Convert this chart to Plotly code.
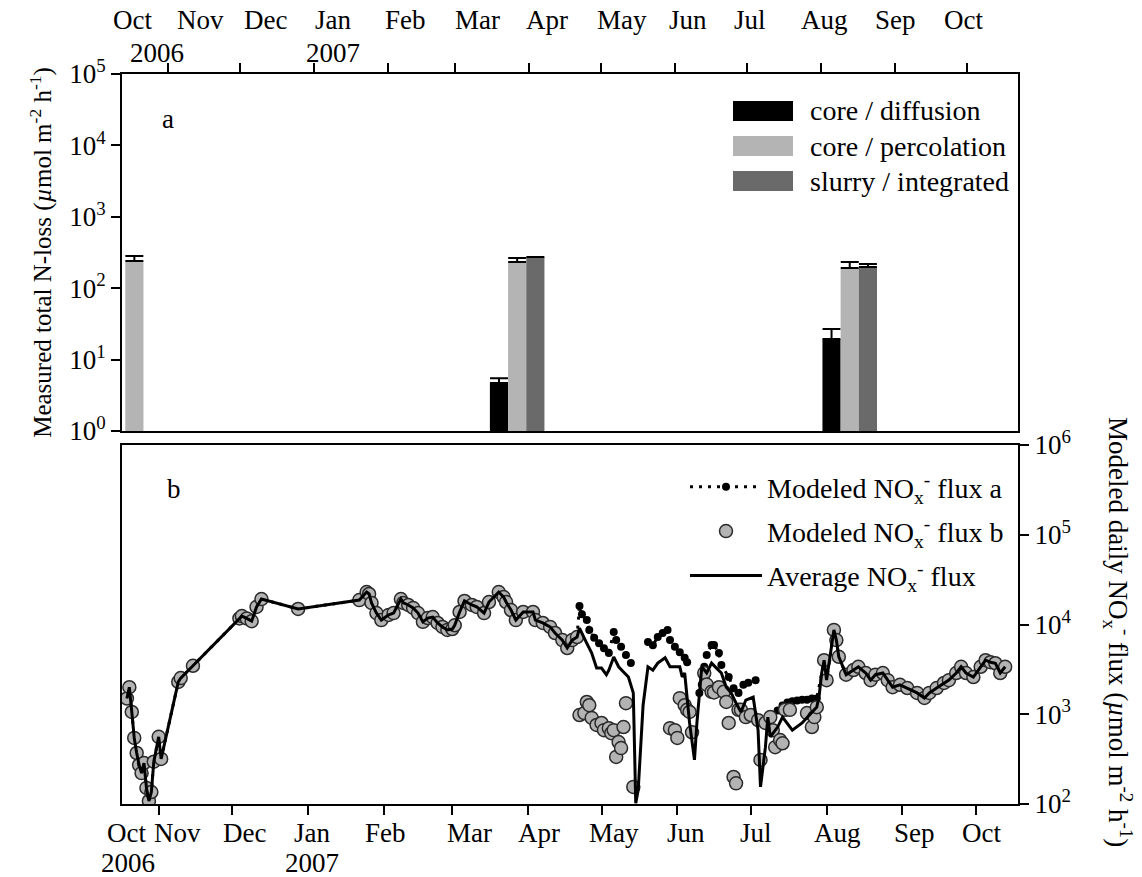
import plotly.graph_objects as go

# ---------------- data ----------------
# panel a : measured total N-loss (umol m-2 h-1)
bar_dates = ["2006-10-18", "2007-03-27", "2007-08-13"]
diffusion = [None, 4.7, 19.4]
diffusion_err = [0, 0.8, 7.4]
percolation = [240, 233, 192]
percolation_err = [42, 32, 41]
slurry = [None, 273, 198]
slurry_err = [0, 0, 20]

# panel b : modeled daily NOx- flux; periods where flux a = flux b = average
common1_dates = [
    "2006-10-19", "2006-10-20", "2006-10-21", "2006-10-22", "2006-10-23", "2006-10-24",
    "2006-10-25", "2006-10-26", "2006-10-27", "2006-10-28", "2006-10-29", "2006-10-30",
    "2006-11-01", "2006-11-02", "2006-11-09", "2006-11-10", "2006-11-15",
    "2006-12-04", "2006-12-05", "2006-12-07", "2006-12-09", "2006-12-11", "2006-12-13",
    "2006-12-28", "2007-01-22", "2007-01-25", "2007-01-26", "2007-01-27", "2007-01-29",
    "2007-01-31", "2007-02-03", "2007-02-05", "2007-02-08", "2007-02-09", "2007-02-11",
    "2007-02-13", "2007-02-15", "2007-02-17", "2007-02-19", "2007-02-21", "2007-02-23",
    "2007-02-25", "2007-02-27", "2007-03-01", "2007-03-02", "2007-03-04", "2007-03-06",
    "2007-03-09", "2007-03-11", "2007-03-14", "2007-03-16", "2007-03-20", "2007-03-22",
    "2007-03-23", "2007-03-25", "2007-03-27", "2007-03-30", "2007-04-03", "2007-04-04",
    "2007-04-07", "2007-04-10", "2007-04-12", "2007-04-15", "2007-04-17", "2007-04-19",
    "2007-04-21",
]
common1_vals = [
    1500, 2000, 1060, 545, 370, 272,
    221, 286, 151, 108, 136, 296,
    560, 318, 2290, 2530, 3470,
    11700, 12400, 11700, 10900, 15700, 19200,
    14900, 18700, 23000, 21900, 17400, 13400,
    11200, 12800, 13400, 19200, 17400, 16500,
    15300, 13400, 10700, 11800, 12100, 10400,
    9380, 8700, 8900, 9800, 13800, 18300,
    16500, 15700, 13400, 17800, 23000, 20200,
    17800, 14500, 11200, 13800, 13800, 11200,
    10400, 9400, 8040, 6700, 5470, 6700,
    7250,
]

# spring/summer period where the two model estimates diverge
a_split_dates = [
    "2007-04-22", "2007-04-23", "2007-04-25", "2007-04-26", "2007-04-28", "2007-04-30",
    "2007-05-02", "2007-05-04", "2007-05-06", "2007-05-07", "2007-05-09", "2007-05-11",
    "2007-05-13", "2007-05-16",
    "2007-05-20", "2007-05-22", "2007-05-24", "2007-05-26", "2007-05-28", "2007-05-29",
    "2007-05-31", "2007-06-02", "2007-06-04", "2007-06-05", "2007-06-07",
    "2007-06-10", "2007-06-11", "2007-06-12", "2007-06-13", "2007-06-15", "2007-06-16",
    "2007-06-18", "2007-06-19", "2007-06-22", "2007-06-24", "2007-06-26", "2007-06-28",
    "2007-06-30", "2007-07-03", "2007-07-07",
    "2007-07-12", "2007-07-14", "2007-07-16", "2007-07-18", "2007-07-20", "2007-07-22",
    "2007-07-24", "2007-07-26", "2007-07-28",
]
a_split_vals = [
    16100, 13000, 11200, 8700, 7100, 6200,
    5450, 4800, 8250, 6700, 5650, 4580,
    3720, None,
    6380, 5870, 7250, 8040, 8700, 6700,
    5650, 4900, 4250, 3800, None,
    1730, 2140, 3380, 4580, 5900, 5900,
    4800, 3540, 2600, 1950, 1730, 2130,
    2240, 2400, None,
    1100, 1250, 1350, 1400, 1420, 1450,
    1450, 1500, 1500,
]

b_split_dates = [
    "2007-04-22", "2007-04-24", "2007-04-25", "2007-04-26", "2007-04-27", "2007-04-29",
    "2007-05-01", "2007-05-02", "2007-05-04", "2007-05-05", "2007-05-06", "2007-05-07",
    "2007-05-08", "2007-05-09", "2007-05-10", "2007-05-11", "2007-05-14",
    "2007-05-29", "2007-05-31", "2007-06-01", "2007-06-02", "2007-06-04", "2007-06-05",
    "2007-06-06", "2007-06-07", "2007-06-12", "2007-06-13", "2007-06-15", "2007-06-16",
    "2007-06-18", "2007-06-20", "2007-06-21", "2007-06-22", "2007-06-24", "2007-06-25",
    "2007-06-26", "2007-06-27", "2007-06-29", "2007-07-01", "2007-07-04", "2007-07-05",
    "2007-07-07", "2007-07-09", "2007-07-10", "2007-07-11", "2007-07-13", "2007-07-14",
    "2007-07-15", "2007-07-17", "2007-07-24", "2007-07-26", "2007-07-27", "2007-07-28",
]
b_split_vals = [
    980, 1030, 1370, 1260, 910, 760,
    800, 665, 700, 615, 665, 335,
    490, 420, 720, 1330, 155,
    700, 665, 545, 1510, 1260, 1120,
    1060, 630, 2880, 2140, 1780, 1750,
    2000, 1780, 1370, 800, 200, 170,
    1120, 1120, 930, 980, 860, 310,
    800, 930, 665, 430, 515, 475,
    1120, 1120, 1030, 720, 930, 1200,
]

avg_split_dates = [
    "2007-04-22", "2007-04-25", "2007-04-27", "2007-04-29", "2007-05-01", "2007-05-03",
    "2007-05-04", "2007-05-06", "2007-05-08", "2007-05-10", "2007-05-12", "2007-05-14",
    "2007-05-15", "2007-05-16", "2007-05-18", "2007-05-20", "2007-05-22", "2007-05-24",
    "2007-05-27", "2007-05-29", "2007-06-02", "2007-06-03", "2007-06-04", "2007-06-06",
    "2007-06-08", "2007-06-09", "2007-06-10", "2007-06-11", "2007-06-13", "2007-06-15",
    "2007-06-17", "2007-06-19", "2007-06-21", "2007-06-23", "2007-06-25", "2007-06-27",
    "2007-06-29", "2007-07-02", "2007-07-04", "2007-07-05", "2007-07-07", "2007-07-08",
    "2007-07-09", "2007-07-12", "2007-07-14", "2007-07-18", "2007-07-22", "2007-07-26",
    "2007-07-28", "2007-07-29", "2007-07-30",
]
avg_split_vals = [
    9100, 6150, 4800, 3270, 3270, 2760,
    3100, 4350, 3380, 2960, 2600, 1730,
    102, 143, 1260, 3380, 3100, 3710,
    4260, 3380, 3380, 2600, 2880, 800,
    310, 800, 1550, 3380, 2880, 3710,
    3270, 2880, 2000, 1730, 1330, 1060,
    1440, 1550, 665, 155, 430, 930,
    560, 720, 930, 665, 800, 1030,
    1200, 1630, 2880,
]

common2_dates = [
    "2007-07-31", "2007-08-01", "2007-08-04", "2007-08-05", "2007-08-06", "2007-08-09",
    "2007-08-12", "2007-08-14", "2007-08-17", "2007-08-19", "2007-08-21", "2007-08-24",
    "2007-08-26", "2007-08-28", "2007-08-31", "2007-09-03", "2007-09-07", "2007-09-10",
    "2007-09-12", "2007-09-15", "2007-09-18", "2007-09-20", "2007-09-23", "2007-09-25",
    "2007-09-27", "2007-09-30", "2007-10-03", "2007-10-05", "2007-10-07", "2007-10-09",
    "2007-10-11", "2007-10-13",
]
common2_vals = [
    4000, 2400, 8700, 6700, 4370, 2760,
    3110, 3380, 2880, 2400, 2760, 2880,
    2400, 2000, 2130, 1960, 1730, 1520,
    1730, 1960, 2230, 2400, 2880, 3380,
    2880, 2600, 3380, 4000, 3800, 3700,
    2880, 3380,
]

# axis tick labels
month_ticks = ["2006-11-01", "2006-12-01", "2007-01-01", "2007-02-01", "2007-03-01",
               "2007-04-01", "2007-05-01", "2007-06-01", "2007-07-01", "2007-08-01",
               "2007-09-01", "2007-10-01"]
month_labels = ["Oct", "Nov", "Dec", "Jan", "Feb", "Mar", "Apr", "May", "Jun", "Jul",
                "Aug", "Sep", "Oct"]
year_labels = ["2006", "2007"]
top_log_ticks = [1, 10, 100, 1000, 10000, 100000]
top_log_text = ["10<sup>0</sup>", "10<sup>1</sup>", "10<sup>2</sup>", "10<sup>3</sup>",
                "10<sup>4</sup>", "10<sup>5</sup>"]
bot_log_ticks = [100, 1000, 10000, 100000, 1000000]
bot_log_text = ["10<sup>2</sup>", "10<sup>3</sup>", "10<sup>4</sup>", "10<sup>5</sup>",
                "10<sup>6</sup>"]

# ---------------- layout helpers ----------------
W, H = 1142, 877
L, R, T, B = 122, 124, 74, 73
PW, PH = W - L - R, H - T - B
FONT = "Liberation Serif, Times New Roman, DejaVu Serif, serif"
FS = 27


def px(x):
    return (x - L) / PW


def py(y):
    return (H - B - y) / PH


def label(text, x, y, size=FS, **kw):
    d = dict(text=text, x=px(x), y=py(y), xref="paper", yref="paper",
             xanchor="center", yanchor="middle", showarrow=False,
             font=dict(family=FONT, size=size, color="black"))
    d.update(kw)
    return d


a_dates = common1_dates + a_split_dates + common2_dates
a_vals = common1_vals + a_split_vals + common2_vals
b_dates = common1_dates + b_split_dates + common2_dates
b_vals = common1_vals + b_split_vals + common2_vals
avg_dates = common1_dates + avg_split_dates + common2_dates
avg_vals = common1_vals + avg_split_vals + common2_vals

fig = go.Figure()

# ---- panel a bars ----
DAY = 86400000
BW = 7.6 * DAY
bar_specs = [
    ("core / diffusion", diffusion, diffusion_err, "#000000", -1.5 * BW),
    ("core / percolation", percolation, percolation_err, "#b4b4b4", -0.5 * BW),
    ("slurry / integrated", slurry, slurry_err, "#6a6a6a", 0.5 * BW),
]
for name, vals, errs, col, off in bar_specs:
    fig.add_trace(go.Bar(
        x=bar_dates, y=vals, name=name, xaxis="x", yaxis="y",
        width=BW, offset=off, marker=dict(color=col, line=dict(width=0)),
        error_y=dict(type="data", symmetric=False, array=errs,
                     arrayminus=[0] * len(errs), width=9, thickness=2, color="black"),
        showlegend=False,
    ))

# ---- panel b lines / markers ----
fig.add_trace(go.Scatter(
    x=a_dates, y=a_vals, name="Modeled NO<sub>x</sub><sup>-</sup> flux a",
    xaxis="x2", yaxis="y2", mode="lines+markers", connectgaps=False,
    line=dict(color="black", width=3, dash="3px,6px"),
    marker=dict(color="black", size=8), legendgroup="a",
))
fig.add_trace(go.Scatter(
    x=b_dates, y=b_vals, name="Modeled NO<sub>x</sub><sup>-</sup> flux b",
    xaxis="x2", yaxis="y2", mode="markers",
    marker=dict(color="#b3b3b3", size=13, line=dict(color="#2a2a2a", width=1.5)),
    legendgroup="b",
))
fig.add_trace(go.Scatter(
    x=avg_dates, y=avg_vals, name="Average NO<sub>x</sub><sup>-</sup> flux",
    xaxis="x2", yaxis="y2", mode="lines",
    line=dict(color="black", width=3), legendgroup="c",
))

axis_common = dict(showline=True, linewidth=2, linecolor="black", mirror=True,
                   showgrid=False, zeroline=False, ticks="outside", ticklen=9,
                   tickwidth=2, tickcolor="black",
                   tickfont=dict(family=FONT, size=FS, color="black"))

# top legend drawn as boxes + labels
shapes = []
annotations = []
leg_rows = [111, 146, 181]
for (name, _, _, col, _), yc in zip(bar_specs, leg_rows):
    shapes.append(dict(type="rect", xref="paper", yref="paper",
                       x0=px(733), x1=px(793), y0=py(yc + 10), y1=py(yc - 10),
                       fillcolor=col, line=dict(width=0)))
    annotations.append(label(name, 808, yc, size=28, xanchor="left"))

# panel letters
annotations.append(label("a", 168, 119))
annotations.append(label("b", 174, 489))

# month labels (top and bottom axes)
top_label_px = [132, 200, 265, 333, 405, 477, 547, 622, 688, 750, 824, 895, 963]
bot_label_px = [126, 177, 244, 312, 385, 469, 539, 614, 686, 756, 837, 914, 981]
for lab, xt, xb in zip(month_labels, top_label_px, bot_label_px):
    annotations.append(label(lab, xt, 20))
    annotations.append(label(lab, xb, 833))
for lab, xt, xb in zip(year_labels, [157, 333], [128, 312]):
    annotations.append(label(lab, xt, 53))
    annotations.append(label(lab, xb, 863))

# right axis title (reads top to bottom)
annotations.append(label(
    "Modeled daily NO<sub>x</sub><sup>-</sup> flux (<i>µ</i>mol m<sup>-2</sup> h<sup>-1</sup>)",
    1118, 632, size=27, textangle=90))

fig.update_layout(
    width=W, height=H, margin=dict(l=L, r=R, t=T, b=B),
    paper_bgcolor="white", plot_bgcolor="white",
    font=dict(family=FONT, size=FS, color="black"),
    barmode="overlay",
    xaxis=dict(domain=[0, 1], anchor="y", side="top", type="date",
               range=["2006-10-12 20:00", "2007-10-22 08:00"],
               tickvals=month_ticks, showticklabels=False, **axis_common),
    yaxis=dict(domain=[py(431), 1], anchor="x", type="log", range=[0, 5],
               tickvals=top_log_ticks, ticktext=top_log_text,
               title=dict(text="Measured total N-loss (<i>µ</i>mol m<sup>-2</sup> h<sup>-1</sup>)",
                          font=dict(family=FONT, size=25, color="black"), standoff=10),
               **axis_common),
    xaxis2=dict(domain=[0, 1], anchor="y2", side="bottom", type="date",
                range=["2006-10-17", "2007-10-18 06:00"],
                tickvals=month_ticks, showticklabels=False, **axis_common),
    yaxis2=dict(domain=[0, py(445)], anchor="x2", side="right", type="log", range=[2, 6],
                tickvals=bot_log_ticks, ticktext=bot_log_text, **axis_common),
    legend=dict(x=px(685), y=py(462), xanchor="left", yanchor="top",
                bgcolor="rgba(0,0,0,0)", itemwidth=72, tracegroupgap=5,
                traceorder="grouped", font=dict(family=FONT, size=28, color="black")),
    shapes=shapes, annotations=annotations, hovermode=False,
)

fig.write_html("out.html")
